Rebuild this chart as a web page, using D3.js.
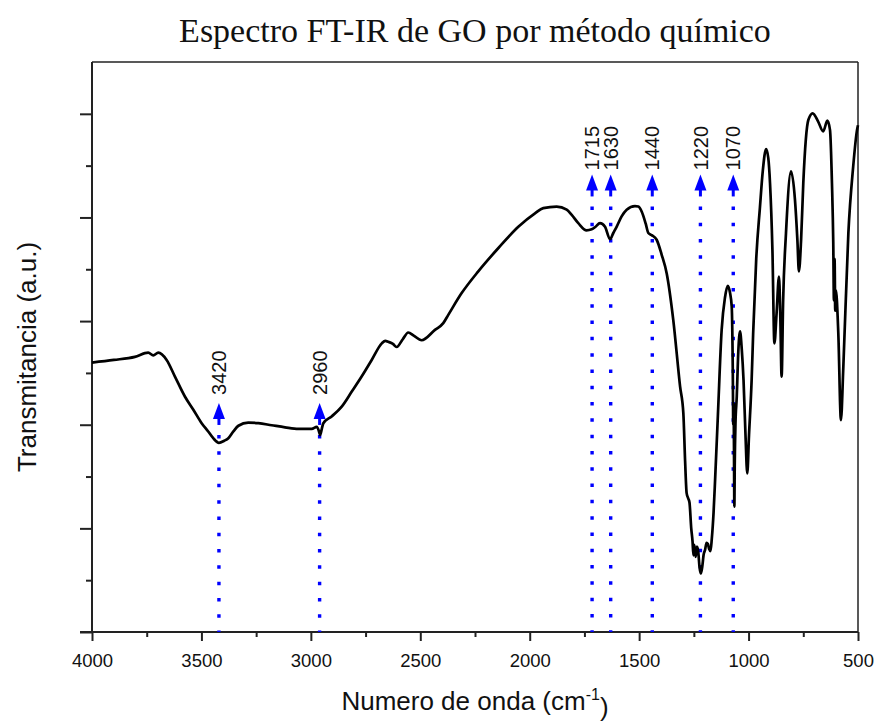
<!DOCTYPE html>
<html>
<head>
<meta charset="utf-8">
<script src="https://cdn.jsdelivr.net/npm/d3@7"></script>
<style>
  body { margin: 0; background: #fff; }
  svg { display: block; }
</style>
</head>
<body>
<svg id="chart" width="880" height="721"></svg>
<script>
// FT-IR spectrum of graphene oxide (chemical route): wavenumber (cm-1) vs transmittance (a.u.)
const wavenumber = [
  4000, 3900, 3804, 3743, 3720, 3697, 3659, 3621, 3575, 3537, 3499, 3469, 3446, 3420, 3396, 3377,
  3354, 3331, 3286, 3240, 3179, 3118, 3057, 2996, 2973, 2962, 2958, 2950, 2943, 2905, 2859, 2813,
  2768, 2722, 2676, 2660, 2646, 2625, 2608, 2580, 2555, 2530, 2494, 2433, 2395, 2372, 2311, 2235,
  2143, 2052, 1976, 1938, 1877, 1831, 1808, 1778, 1740, 1717, 1699, 1679, 1656, 1633, 1618, 1603,
  1580, 1557, 1519, 1504, 1488, 1470, 1458, 1443, 1420, 1397, 1374, 1344, 1313, 1298, 1290, 1283,
  1276, 1270, 1262, 1256, 1252, 1248, 1242, 1236, 1230, 1224, 1218, 1212, 1205, 1199, 1192, 1186,
  1180, 1174, 1168, 1160, 1153, 1140, 1123, 1108, 1095, 1085, 1077, 1072, 1070, 1068, 1066, 1065,
  1063, 1060, 1054, 1047, 1039, 1031, 1023, 1014, 1006, 998, 986, 979, 965, 948, 935, 920,
  910, 902, 891, 882, 872, 861, 855, 849, 842, 829, 806, 788, 777, 770, 760, 750,
  727, 707, 682, 659, 640, 628, 619, 613, 610, 607, 604, 601, 590, 578, 567, 544,
  522, 504, 500
];
const transmittance = [
  52.0, 52.5, 53.1, 53.9, 53.4, 53.9, 52.5, 49.3, 45.4, 42.9, 40.3, 38.7, 37.4, 36.5, 36.9, 37.4,
  38.7, 39.8, 40.4, 40.3, 39.9, 39.5, 39.2, 39.2, 39.6, 38.6, 38.0, 39.2, 40.3, 41.6, 43.5, 46.4,
  49.3, 52.5, 55.7, 56.2, 56.0, 55.6, 55.0, 56.5, 57.8, 57.2, 56.3, 58.3, 59.6, 61.2, 65.4, 69.6,
  74.1, 78.2, 80.8, 81.8, 82.1, 81.5, 80.5, 78.9, 77.5, 77.7, 78.2, 78.9, 78.2, 75.8, 77.0, 78.2,
  80.2, 81.5, 82.2, 82.1, 81.1, 78.8, 77.0, 76.6, 75.7, 72.8, 69.2, 60.2, 47.4, 42.2, 33.0, 26.8,
  25.8, 25.0, 20.0, 17.5, 14.8, 16.8, 14.5, 16.5, 15.5, 12.5, 11.3, 12.5, 15.0, 15.8, 17.2, 17.0,
  16.0, 15.6, 18.0, 23.0, 29.3, 42.0, 58.3, 64.5, 66.8, 65.5, 62.8, 50.0, 40.0, 44.0, 30.0, 24.2,
  33.0, 40.0, 45.4, 54.0, 58.0, 54.5, 48.6, 38.0, 30.6, 38.0, 48.6, 57.7, 72.0, 82.0, 89.0, 93.2,
  91.5, 86.6, 73.7, 55.7, 61.5, 68.6, 60.9, 49.3, 64.1, 77.0, 88.9, 83.4, 75.7, 69.6, 75.7, 86.6,
  98.8, 100.1, 98.5, 96.6, 98.7, 96.9, 86.6, 75.0, 64.0, 72.0, 62.0, 66.0, 57.7, 40.9, 51.2, 77.0,
  89.8, 97.0, 97.8
];
const peakWavenumbers = [3420, 2960, 1715, 1630, 1440, 1220, 1070];
const xTickValues = [4000, 3500, 3000, 2500, 2000, 1500, 1000, 500];
const xMinorTickValues = [3750, 3250, 2750, 2250, 1750, 1250, 750];
const yTickValues = [0, 20, 40, 60, 80, 100];
const yMinorTickValues = [10, 30, 50, 70, 90];

const titleText = "Espectro FT-IR de GO por método químico";
const xLabelText = "Numero de onda (cm";
const yLabelText = "Transmitancia (a.u.)";

const svg = d3.select("#chart");
const plot = { left: 92, right: 858, top: 62, bottom: 632 };

const x = d3.scaleLinear().domain([4000, 500]).range([plot.left, plot.right]);
const y = d3.scaleLinear().domain([0, 110]).range([plot.bottom, plot.top]);

const sans = "'Liberation Sans', Arial, sans-serif";
const serif = "'Liberation Serif', 'Times New Roman', serif";

// Title
svg.append("text")
  .attr("x", (plot.left + plot.right) / 2)
  .attr("y", 42)
  .attr("text-anchor", "middle")
  .style("font-family", serif)
  .style("font-size", "34px")
  .attr("fill", "#111")
  .text(titleText);

// Frame: top and right edges
svg.append("line")
  .attr("x1", plot.left).attr("x2", plot.right)
  .attr("y1", plot.top).attr("y2", plot.top)
  .attr("stroke", "#222").attr("stroke-width", 1.5);
svg.append("line")
  .attr("x1", plot.right).attr("x2", plot.right)
  .attr("y1", plot.top).attr("y2", plot.bottom)
  .attr("stroke", "#222").attr("stroke-width", 1.5);

// Bottom axis (major + minor ticks)
const xAxisG = svg.append("g")
  .attr("transform", `translate(0,${plot.bottom})`)
  .call(d3.axisBottom(x).tickValues(xTickValues).tickSize(9).tickSizeOuter(0).tickPadding(13)
    .tickFormat(d3.format("d")));
svg.append("g")
  .attr("transform", `translate(0,${plot.bottom})`)
  .call(d3.axisBottom(x).tickValues(xMinorTickValues).tickSize(5).tickSizeOuter(0).tickFormat(""))
  .call(g => g.select(".domain").remove());

// Left axis (major + minor ticks, no labels)
const yAxisG = svg.append("g")
  .attr("transform", `translate(${plot.left},0)`)
  .call(d3.axisLeft(y).tickValues(yTickValues).tickSize(12).tickSizeOuter(0).tickFormat(""));
svg.append("g")
  .attr("transform", `translate(${plot.left},0)`)
  .call(d3.axisLeft(y).tickValues(yMinorTickValues).tickSize(6).tickSizeOuter(0).tickFormat(""))
  .call(g => g.select(".domain").remove());

svg.selectAll(".domain").attr("stroke", "#222").attr("stroke-width", 2);
svg.selectAll(".tick line").attr("stroke", "#222").attr("stroke-width", 2);
xAxisG.selectAll(".tick text")
  .style("font-family", sans).style("font-size", "18.5px").attr("fill", "#111");
// the y axis line runs up to the frame top; the x axis line meets the bottom y tick
yAxisG.select(".domain").attr("d", `M0,${plot.top}V${plot.bottom}`);
xAxisG.select(".domain").attr("d", `M${plot.left - 12},0H${plot.right}`);

// Peak markers: dotted guide, arrow head, rotated label
const markers = svg.append("g");
peakWavenumbers.forEach(p => {
  const low = p > 2500;
  const tipY = y(low ? 44.2 : 88.3);
  const gap = low ? 8 : 4;
  const px = x(p);
  markers.append("line")
    .attr("x1", px).attr("x2", px)
    .attr("y1", tipY + 32).attr("y2", plot.bottom)
    .attr("stroke", "#0000ff").attr("stroke-width", 3.4)
    .attr("stroke-dasharray", "3.5 12.8");
  markers.append("line")
    .attr("x1", px).attr("x2", px)
    .attr("y1", tipY + 10).attr("y2", tipY + 22)
    .attr("stroke", "#0000ff").attr("stroke-width", 3);
  markers.append("path")
    .attr("d", `M${px},${tipY}L${px - 6},${tipY + 16}L${px + 6},${tipY + 16}Z`)
    .attr("fill", "#0000ff");
  markers.append("text")
    .attr("transform", `translate(${px},${tipY - gap}) rotate(-90)`)
    .attr("dy", "0.36em")
    .attr("text-anchor", "start")
    .style("font-family", sans).style("font-size", "20px")
    .attr("fill", "#111")
    .text(p);
});

// Spectrum
const pts = wavenumber.map((w, i) => [w, transmittance[i]]);
svg.append("path")
  .datum(pts)
  .attr("fill", "none")
  .attr("stroke", "#000")
  .attr("stroke-width", 2.7)
  .attr("stroke-linejoin", "round")
  .attr("d", d3.line().x(d => x(d[0])).y(d => y(d[1])).curve(d3.curveMonotoneX));

// Axis titles
const xl = svg.append("text")
  .attr("x", (plot.left + plot.right) / 2)
  .attr("y", 710)
  .attr("text-anchor", "middle")
  .style("font-family", sans).style("font-size", "26px")
  .attr("fill", "#111");
xl.append("tspan").text(xLabelText);
xl.append("tspan").attr("dy", "-0.6em").style("font-size", "16px").text("-1");
xl.append("tspan").attr("dy", "0.6em").text(")");

svg.append("text")
  .attr("transform", `translate(36,357) rotate(-90)`)
  .attr("text-anchor", "middle")
  .style("font-family", sans).style("font-size", "26px")
  .attr("fill", "#111")
  .text(yLabelText);
</script>
</body>
</html>
